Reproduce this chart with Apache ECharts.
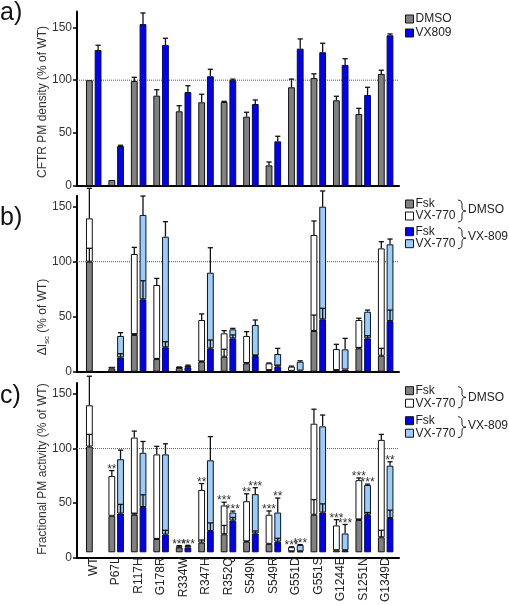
<!DOCTYPE html>
<html><head><meta charset="utf-8">
<script src="https://cdn.jsdelivr.net/npm/echarts@6/dist/echarts.min.js"></script>
<style>html,body{margin:0;padding:0;background:#fff}#c{width:509px;height:605px}</style>
</head><body><div id="c"></div>
<script>
// ---------- data ----------
const categories = ['WT','P67L','R117H','G178R','R334W','R347H','R352Q','S549N','S549R','G551D','G551S','G1244E','S1251N','G1349D'];
const yTicks = [0, 50, 100, 150];

// a) CFTR PM density
const densDMSO    = [100, 5.7, 99.2, 85.4, 70.6, 79.1, 79.4, 65.5, 19.5, 93.3, 102, 81, 68, 105.9];
const densDMSOSem = [0, 0, 3.5, 5.6, 5.3, 7.6, 0.6, 4.2, 3.2, 7.7, 4, 3.8, 5.4, 3.5];
const densVX      = [128.5, 37.8, 153, 133.3, 88.8, 103.7, 100, 77.5, 42.2, 129.8, 126.4, 114.4, 86, 142.4];
const densVXSem   = [4.5, 0.7, 10.5, 6.3, 6, 6.6, 1, 3.8, 4.8, 9.2, 8.5, 5.9, 7.3, 1.3];

// b) delta Isc
const iscDMSOFsk      = [100, 3, 33.4, 11.5, 3.5, 9.1, 13.6, 7.6, 1.5, 0.8, 37, 1.5, 21.2, 14.5];
const iscDMSOFskSem   = [12.2, 0, 1.1, 0.5, 0, 0.5, 6.8, 0.5, 0, 0, 14.5, 0, 0.8, 6.7];
const iscDMSOTotal    = [139.4, 4.5, 107, 78.8, 4, 47, 34.9, 32.5, 7.6, 4.6, 124.3, 20.6, 47, 112.1];
const iscDMSOTotalSem = [27.3, 0, 6, 6, 0.3, 5.5, 2.4, 3.9, 0.3, 0.5, 12.7, 4.3, 1.6, 6.1];
const iscVXFsk        = [null, 13, 65.8, 22.2, 4, 21.2, 30.3, 14.3, 4.6, 1, 47.6, 2, 30.3, 46];
const iscVXFskSem     = [null, 3.4, 16.9, 5.1, 0.5, 7.6, 3.1, 0.9, 1.4, 0, 10, 0, 2.4, 10];
const iscVXTotal      = [null, 32.5, 142.5, 122.7, 5.5, 90, 38.5, 42.5, 16.1, 9.1, 150, 20.3, 54.5, 115.8];
const iscVXTotalSem   = [null, 3, 17.2, 13.7, 0.5, 22.7, 0.9, 4.5, 5.1, 0.8, 14.3, 10, 1.5, 4.8];

// c) Fractional PM activity
const actDMSOFsk      = [100, 34.5, 35.5, 12.6, 4.6, 9.2, 17.1, 10.1, 8, 1, 35.5, 2, 30.6, 14.2];
const actDMSOFskSem   = [11.5, 0, 1.5, 0.4, 0, 2.4, 8.3, 0.5, 0, 0, 14.3, 0, 0.8, 6.6];
const actDMSOTotal    = [139, 72.1, 108.5, 92.6, 5.5, 59, 44.3, 48.3, 35.5, 4.9, 121.6, 25.4, 68.2, 106.3];
const actDMSOTotalSem = [27.5, 5.2, 6.1, 7.6, 0.8, 6, 3.1, 7, 3.6, 0.3, 13.7, 5.5, 2.1, 5.2];
const actVXFsk        = [null, 36.7, 42.8, 16.8, 4.6, 20.2, 30, 17.8, 10.1, 1, 37.6, 2, 35.5, 32.4];
const actVXFskSem     = [null, 8.6, 11.6, 4, 0, 7.6, 2.9, 2.4, 3.1, 0, 8.2, 0, 2.1, 7.4];
const actVXTotal      = [null, 88, 94.1, 92.6, 6.1, 87, 37.6, 55, 37.6, 7, 119.1, 17.8, 63.6, 81.9];
const actVXTotalSem   = [null, 8.6, 10.7, 10, 0.5, 22.4, 1.4, 6.1, 13.7, 0.3, 10.7, 8.5, 0.9, 3.7];
const starsDMSO = ['', '**', '', '', '***', '**', '***', '**', '***', '***', '', '***', '***', ''];
const starsVX   = ['', '', '', '', '***', '', '***', '***', '**', '***', '', '***', '***', '**'];

// ---------- layout / style ----------
const FONT = 'Liberation Sans';
const GRAY = '#808080', WHITE = '#ffffff', BLUE = '#0000ff', LBLUE = '#99ccff';
const BAR_W = 6.8, BAR_GAP = 0.28;
const OFF = BAR_W * (1 + BAR_GAP) / 2;
const PANELS = [
  {top: 11.4, h: 174.6, max: 165},
  {top: 195.7, h: 176, max: 160},
  {top: 383.1, h: 174.6, max: 160}
];

const grid = [], xAxis = [], yAxis = [], series = [];
PANELS.forEach((p, k) => {
  grid.push({left: 77, width: 322, top: p.top, height: p.h});
  grid.push({left: 82.5, width: 314.4, top: p.top, height: p.h});
  xAxis.push({type: 'value', gridIndex: 2*k, min: 0, max: 1,
    axisLine: {show: true, onZero: false, lineStyle: {color: '#000', width: 2}},
    axisTick: {show: false}, axisLabel: {show: false}, splitLine: {show: false}});
  xAxis.push({type: 'category', gridIndex: 2*k+1, data: categories,
    axisLine: {show: false}, axisTick: {show: false},
    axisLabel: {show: k === 2, interval: 0, rotate: 90, margin: 5, fontSize: 12, color: '#222', fontFamily: FONT}});
  yAxis.push({type: 'value', gridIndex: 2*k, min: 0, max: p.max,
    axisLine: {show: true, lineStyle: {color: '#000', width: 2}},
    axisTick: {show: true, length: 4, customValues: yTicks, lineStyle: {color: '#000', width: 1.5}},
    axisLabel: {customValues: yTicks, fontSize: 12, color: '#333', margin: 5, fontFamily: FONT},
    splitLine: {show: false}});
  yAxis.push({type: 'value', gridIndex: 2*k+1, min: 0, max: p.max, show: false});
  series.push({type: 'line', xAxisIndex: 2*k, yAxisIndex: 2*k, data: [[0, 100], [1, 100]],
    symbol: 'none', silent: true, z: 1, lineStyle: {type: 'dotted', color: '#555', width: 1}});
});

function barS(name, k, data, color, stack, last) {
  const s = {type: 'bar', name, xAxisIndex: 2*k+1, yAxisIndex: 2*k+1, data,
    barWidth: BAR_W, itemStyle: {color, borderColor: '#111', borderWidth: 1}, z: 2};
  if (stack) s.stack = stack;
  if (last) s.barGap = (BAR_GAP*100) + '%';
  return s;
}
function diff(tot, fsk) { return tot.map((v, i) => v == null ? null : +(v - fsk[i]).toFixed(2)); }

function errS(k, base, sem, side, stars) {
  return {
    type: 'custom', xAxisIndex: 2*k+1, yAxisIndex: 2*k+1, z: 5, clip: false, silent: true,
    data: categories.map((c, i) => [i, base[i] == null ? 0 : base[i]]),
    renderItem(params, api) {
      const i = params.dataIndex;
      if (base[i] == null) return;
      const p0 = api.coord([i, base[i]]);
      const p1 = api.coord([i, base[i] + sem[i]]);
      const cx = p0[0] + side * OFF;
      const ch = [];
      if (sem[i] > 0) {
        ch.push({type: 'line', shape: {x1: cx, y1: p0[1], x2: cx, y2: p1[1]}, style: {stroke: '#111', lineWidth: 1.3}});
        ch.push({type: 'line', shape: {x1: cx - 2.6, y1: p1[1], x2: cx + 2.6, y2: p1[1]}, style: {stroke: '#111', lineWidth: 1.3}});
      }
      if (stars && stars[i]) {
        ch.push({type: 'text', style: {text: stars[i], x: cx, y: p1[1] + 5, align: 'center', verticalAlign: 'bottom',
          font: '12px "' + FONT + '"', fill: '#333'}});
      }
      return {type: 'group', children: ch};
    }
  };
}

// panel a
series.push(barS('DMSO', 0, densDMSO, GRAY));
series.push(barS('VX809', 0, densVX, BLUE, null, true));
series.push(errS(0, densDMSO, densDMSOSem, -1));
series.push(errS(0, densVX, densVXSem, 1));
// panel b
series.push(barS('Fsk', 1, iscDMSOFsk, GRAY, 'bD'));
series.push(barS('VX-770', 1, diff(iscDMSOTotal, iscDMSOFsk), WHITE, 'bD'));
series.push(barS('Fsk ', 1, iscVXFsk, BLUE, 'bV'));
series.push(barS('VX-770 ', 1, diff(iscVXTotal, iscVXFsk), LBLUE, 'bV', true));
series.push(errS(1, iscDMSOFsk, iscDMSOFskSem, -1));
series.push(errS(1, iscDMSOTotal, iscDMSOTotalSem, -1));
series.push(errS(1, iscVXFsk, iscVXFskSem, 1));
series.push(errS(1, iscVXTotal, iscVXTotalSem, 1));
// panel c
series.push(barS('Fsk', 2, actDMSOFsk, GRAY, 'cD'));
series.push(barS('VX-770', 2, diff(actDMSOTotal, actDMSOFsk), WHITE, 'cD'));
series.push(barS('Fsk ', 2, actVXFsk, BLUE, 'cV'));
series.push(barS('VX-770 ', 2, diff(actVXTotal, actVXFsk), LBLUE, 'cV', true));
series.push(errS(2, actDMSOFsk, actDMSOFskSem, -1));
series.push(errS(2, actDMSOTotal, actDMSOTotalSem, -1, starsDMSO));
series.push(errS(2, actVXFsk, actVXFskSem, 1));
series.push(errS(2, actVXTotal, actVXTotalSem, 1, starsVX));

function legend(data, top, gap) {
  return {data, orient: 'vertical', left: 405, top, padding: 0, itemWidth: 8, itemHeight: 8, itemGap: gap,
    icon: 'rect', selectedMode: false,
    itemStyle: {borderColor: '#111', borderWidth: 1},
    textStyle: {fontSize: 12, color: '#222', fontFamily: FONT, lineHeight: 12, padding: [0, 0, 0, -3]}};
}

function brace(x, y, h) {
  const m = h / 2;
  return {type: 'polyline', x, y, silent: true,
    shape: {points: [[0,0],[2.5,0.6],[3.6,2],[4,4],[4,m-3],[4.6,m-1.3],[5.8,m-0.4],[8,m],[5.8,m+0.4],[4.6,m+1.3],[4,m+3],[4,h-4],[3.6,h-2],[2.5,h-0.6],[0,h]]},
    style: {stroke: '#222', fill: null, lineWidth: 1}};
}
function gtext(text, x, y, extra) {
  return Object.assign({type: 'text', x, y, silent: true,
    style: Object.assign({text, font: '12px "' + FONT + '"', fill: '#222', align: 'left', verticalAlign: 'middle'}, extra || {})});
}

const graphic = [
  gtext('a)', 0, 1, {font: '25px "' + FONT + '"', verticalAlign: 'top', fill: '#111'}),
  gtext('b)', 0, 206, {font: '25px "' + FONT + '"', verticalAlign: 'top', fill: '#111'}),
  gtext('c)', 0, 384, {font: '25px "' + FONT + '"', verticalAlign: 'top', fill: '#111'}),
  Object.assign(gtext('CFTR PM density (% of WT)', 43, 102, {align: 'center', fill: '#333'}), {rotation: Math.PI/2}),
  Object.assign(gtext('{n|ΔI}{s|sc}{n| (% of WT)}', 43, 317, {align: 'center', fill: '#333',
    rich: {n: {fontSize: 12, fontFamily: FONT, fill: '#333'}, s: {fontSize: 8, fontFamily: FONT, fill: '#333', padding: [7, 0, 0, 0]}}}), {rotation: Math.PI/2}),
  Object.assign(gtext('Fractional PM activity (% of WT)', 43, 469, {align: 'center', fill: '#333'}), {rotation: Math.PI/2}),
  brace(458, 200, 22), gtext('DMSO', 468, 210),
  brace(458, 227.7, 21), gtext('VX-809', 468, 237),
  brace(458, 386.7, 21.3), gtext('DMSO', 468, 397.5),
  brace(458, 416.7, 21), gtext('VX-809', 468, 426)
];

const chart = echarts.init(document.getElementById('c'), null, {renderer: 'canvas'});
chart.setOption({
  animation: false,
  backgroundColor: '#fff',
  textStyle: {fontFamily: FONT},
  grid, xAxis, yAxis, series, graphic,
  legend: [
    legend(['DMSO', 'VX809'], 13, 2),
    legend(['Fsk', 'VX-770'], 198, 0),
    legend(['Fsk ', 'VX-770 '], 225.7, 0),
    legend(['Fsk', 'VX-770'], 384.7, 0.5),
    legend(['Fsk ', 'VX-770 '], 414.7, 0.5)
  ]
});
</script></body></html>
